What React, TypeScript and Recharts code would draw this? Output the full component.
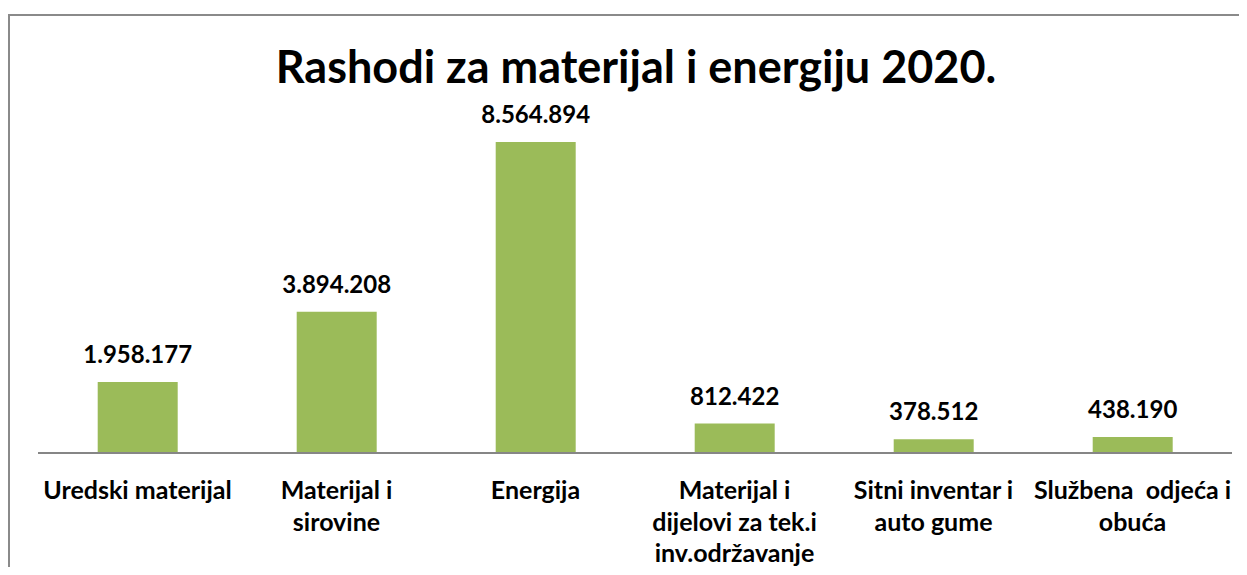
import React from "react";
import { BarChart, Bar, XAxis, YAxis, LabelList } from "recharts";

const categories = [
  "Uredski materijal",
  "Materijal i sirovine",
  "Energija",
  "Materijal i dijelovi za tek.i inv.održavanje",
  "Sitni inventar i auto gume",
  "Službena  odjeća i obuća",
];
const tickLines: string[][] = [
  ["Uredski materijal"],
  ["Materijal i", "sirovine"],
  ["Energija"],
  ["Materijal i", "dijelovi za tek.i", "inv.održavanje"],
  ["Sitni inventar i", "auto gume"],
  ["Službena  odjeća i", "obuća"],
];
const values = [1958177, 3894208, 8564894, 812422, 378512, 438190];
const valueLabels = ["1.958.177", "3.894.208", "8.564.894", "812.422", "378.512", "438.190"];
const title = "Rashodi za materijal i energiju 2020.";

const data = categories.map((c, i) => ({ name: c, value: values[i], label: valueLabels[i] }));

const FONT = "Lato, 'Open Sans', sans-serif";

const Tick = (props: any) => {
  const { x, y, index } = props;
  const lines = tickLines[index] || [];
  return (
    <g>
      {lines.map((l, k) => (
        <text
          key={k}
          x={x}
          y={y + 38 + k * 31.5}
          textAnchor="middle"
          style={{ fontFamily: FONT, fontWeight: 700, fontSize: 25, fill: "#000", whiteSpace: "pre" }}
        >
          {l}
        </text>
      ))}
    </g>
  );
};

export default function App() {
  return (
    <div style={{ position: "relative", width: 1239, height: 559, overflow: "hidden" }}>
      <div
        style={{
          position: "absolute",
          left: 0,
          top: 6,
          width: 1400,
          height: 700,
          borderLeft: "2px solid #8a8a8a",
          borderTop: "2px solid #8a8a8a",
        }}
      />
      <div
        style={{
          position: "absolute",
          left: 0,
          top: 30,
          width: 1256,
          textAlign: "center",
          fontFamily: FONT,
          fontWeight: 700,
          fontSize: 45,
          lineHeight: "56px",
          color: "#000",
          whiteSpace: "nowrap",
        }}
      >
        {title}
      </div>
      <div style={{ position: "absolute", left: 0, top: 0 }}>
        <BarChart
          width={1239}
          height={559}
          data={data}
          margin={{ top: 82, right: 15, left: 30, bottom: 0 }}
          barCategoryGap="30%"
        >
          <YAxis hide domain={[0, 10000000]} />
          <XAxis
            dataKey="name"
            interval={0}
            height={114}
            tickLine={false}
            axisLine={{ stroke: "#868686", strokeWidth: 2 }}
            tick={<Tick />}
          />
          <Bar dataKey="value" fill="#9BBB59" isAnimationActive={false}>
            <LabelList
              dataKey="label"
              position="top"
              offset={19}
              style={{ fontFamily: FONT, fontWeight: 700, fontSize: 24, fill: "#000" }}
            />
          </Bar>
        </BarChart>
      </div>
    </div>
  );
}
